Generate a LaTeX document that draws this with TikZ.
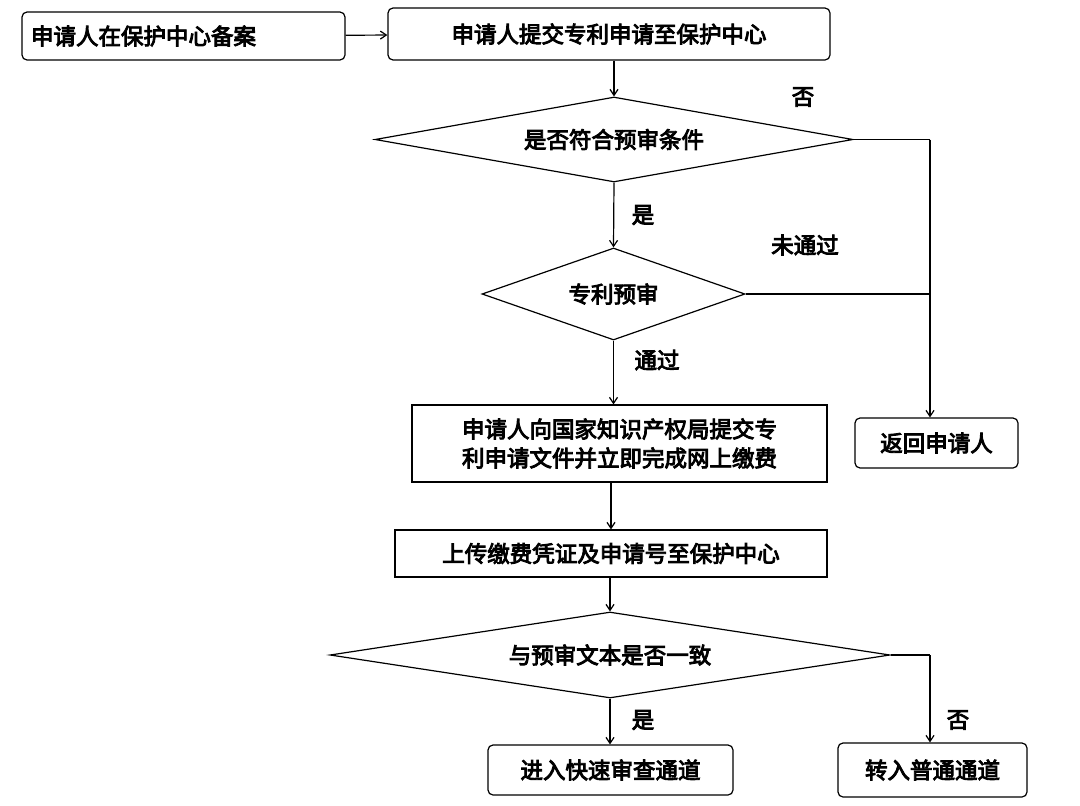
\documentclass[tikz,border=0pt]{standalone}
\usepackage{fontspec}
\newfontfamily\cjk{Noto Sans CJK SC}[AutoFakeBold=4]
\usetikzlibrary{shapes.geometric,arrows.meta}
\begin{document}
\begin{tikzpicture}[x=1pt,y=-1pt,
  every node/.style={font=\cjk\bfseries\fontsize{22.5}{29}\selectfont},
  rbox/.style={draw,line width=1.2pt,rounded corners=5pt,inner sep=0pt},
  sbox/.style={draw,line width=1.2pt,inner sep=0pt},
  dia/.style={draw,line width=1.2pt,diamond,inner sep=0pt},
  arr/.style={-{Straight Barb[length=6pt,width=8pt]},line width=1.2pt},
  ln/.style={line width=1.2pt}]
\useasboundingbox (0,0) rectangle (1080,806);
\node[rbox,minimum width=323pt,minimum height=48pt,text width=305pt,align=left] (b1) at (183.5,36) {申请人在保护中心备案};
\node[rbox,minimum width=442pt,minimum height=52pt] (b2) at (609,34) {申请人提交专利申请至保护中心};
\node[dia,minimum width=478pt,minimum height=85pt] (d1) at (614,139.5) {};
\node at (614,139.5) {是否符合预审条件};
\node[dia,minimum width=263pt,minimum height=92pt] (d2) at (613.5,294) {};
\node at (613.5,294) {专利预审};
\node[sbox,minimum width=415pt,minimum height=77pt,align=center] (b3) at (619.5,443.5) {申请人向国家知识产权局提交专\\利申请文件并立即完成网上缴费};
\node[rbox,minimum width=163pt,minimum height=50pt] (r) at (936.5,443) {返回申请人};
\node[sbox,minimum width=432pt,minimum height=47pt] (b4) at (611,553.5) {上传缴费凭证及申请号至保护中心};
\node[dia,minimum width=560pt,minimum height=86pt] (d3) at (610,655) {};
\node at (610,655) {与预审文本是否一致};
\node[rbox,minimum width=245pt,minimum height=50pt] (b5) at (610.5,770) {进入快速审查通道};
\node[rbox,minimum width=189pt,minimum height=54pt] (b6) at (932.5,770) {转入普通通道};
\coordinate (c1) at (930,139.5);
\coordinate (c2) at (930,294);
\coordinate (c3) at (930,655);
\draw[arr] (b1) -- (b2);
\draw[arr] (b2.south -| d1.north) -- (d1.north);
\draw[ln] (d1.east) -- (c1);
\draw[arr] (c1) -- (r.north -| c1);
\draw[ln] (d2.east) -- (c2);
\draw[arr] (d1.south) -- (d2.north);
\draw[arr] (d2.south) -- (b3.north -| d2.south);
\draw[arr] (b3.south -| b4.north) -- (b4.north);
\draw[arr] (b4.south -| d3.north) -- (d3.north);
\draw[arr] (d3.south) -- (b5.north -| d3.south);
\draw[ln] (d3.east) -- (c3);
\draw[arr] (c3) -- (b6.north -| c3);
\node at (803,97) {否};
\node at (643,215) {是};
\node at (805,245) {未通过};
\node at (657,360) {通过};
\node at (643,720) {是};
\node at (958,720) {否};
\end{tikzpicture}
\end{document}
